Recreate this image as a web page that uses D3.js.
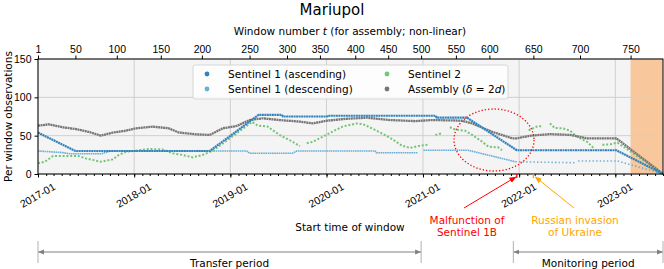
<!DOCTYPE html>
<html>
<head>
<meta charset="utf-8">
<script src="https://cdn.jsdelivr.net/npm/d3@7"></script>
<style>
  body { margin: 0; background: #fff; }
  svg { font-family: "DejaVu Sans", sans-serif; }
  .axis text { font-size: 10.5px; fill: #000; }
  .axis path, .axis line { stroke: #000; }
</style>
</head>
<body>
<script>
// Mariupol - observations per window

var width = 664;
var height = 269;
var plotLeft = 38, plotRight = 663, plotTop = 59, plotBottom = 174;

var yTicks = [0, 50, 100, 150];
var windowTicks = [1, 50, 100, 150, 200, 250, 300, 350, 400, 450, 500, 550, 600, 650, 700, 750];
// start date of those windows (non-linear)
var windowTickDates = ['2017-01-01', '2017-05-23', '2017-10-27', '2018-04-12', '2018-09-15', '2019-03-15',
  '2019-08-04', '2019-12-07', '2020-04-19', '2020-08-22', '2020-12-25', '2021-05-06', '2021-09-10',
  '2022-02-24', '2022-08-20', '2023-02-28'];

var ascending = [
  ['2017-01-01', 54], ['2017-05-23', 30], ['2018-10-15', 30], ['2019-04-18', 77], ['2019-07-15', 77],
  ['2019-07-20', 75], ['2020-01-03', 75], ['2020-01-06', 76], ['2021-02-18', 76], ['2021-02-22', 73.5],
  ['2021-06-17', 73.5], ['2021-12-23', 31], ['2023-01-05', 31], ['2023-07-01', 0]
];

var descending = [
  ['2017-01-01', 30], ['2017-04-01', 28], ['2017-05-01', 26.5], ['2017-09-01', 26.5], ['2017-10-01', 30],
  ['2019-03-04', 30], ['2019-03-15', 27], ['2019-08-25', 27], ['2019-09-10', 30], ['2020-07-03', 30],
  ['2020-07-08', 27.8], ['2020-12-13', 27.8], null, ['2021-01-03', 31], ['2021-06-21', 31],
  ['2021-12-18', 16], ['2022-08-01', 14.7], null, ['2022-08-13', 17], ['2023-01-09', 17], ['2023-07-01', 0]
];

var sentinel2 = [
  ['2017-01-01', 14], ['2017-01-27', 16], ['2017-02-27', 23.5], ['2017-06-04', 23.5], ['2017-07-01', 20.4],
  ['2017-08-27', 16], ['2017-10-12', 19], ['2017-11-04', 25], ['2017-12-01', 29], ['2018-01-07', 30.4],
  ['2018-02-28', 32.6], ['2018-04-19', 32], ['2018-05-27', 27], ['2018-07-04', 24.8], ['2018-08-11', 21.7],
  ['2018-09-19', 25], ['2018-10-27', 30.4], ['2019-03-25', 68], ['2019-04-15', 63], ['2019-05-22', 62],
  ['2019-07-06', 51], ['2019-08-15', 44], ['2019-09-22', 36.5], null, ['2019-10-18', 40], ['2019-11-10', 42],
  ['2019-12-18', 48.7], ['2020-01-22', 55], ['2020-03-03', 62], ['2020-04-25', 66], ['2020-05-18', 65],
  ['2020-06-21', 59.6], ['2020-07-29', 53], ['2020-09-06', 45.6], ['2020-10-13', 37], ['2020-11-13', 34],
  ['2020-12-21', 37], ['2021-01-18', 38], null, ['2021-02-17', 51], ['2021-03-13', 53], null,
  ['2021-04-13', 61], ['2021-05-03', 58], ['2021-06-10', 56.5], ['2021-07-07', 51], ['2021-08-14', 42],
  ['2021-09-06', 35.7], ['2021-10-13', 34.8], ['2021-10-28', 31], null, ['2022-02-06', 57],
  ['2022-03-10', 62], ['2022-04-01', 62.6], null, ['2022-04-28', 66], ['2022-05-16', 60], ['2022-06-16', 59.6],
  ['2022-07-13', 56.5], ['2022-08-09', 48.7], ['2022-09-16', 42], ['2022-10-10', 34], null,
  ['2022-11-13', 38], ['2022-12-13', 38.7], ['2023-01-09', 40.9], ['2023-02-01', 35.7], ['2023-07-01', 0]
];

var assembly = [
  ['2017-01-01', 63], ['2017-02-11', 64.8], ['2017-04-04', 61], ['2017-05-23', 58.7], ['2017-07-12', 55],
  ['2017-08-27', 50], ['2017-10-12', 54], ['2017-12-01', 56.5], ['2018-01-07', 59.6], ['2018-03-12', 61.7],
  ['2018-05-12', 59.6], ['2018-06-18', 54.3], ['2018-08-22', 51.7], ['2018-10-15', 51], ['2018-12-03', 59.6],
  ['2019-01-25', 62.6], ['2019-03-15', 70.4], ['2019-05-03', 72.6], ['2019-07-06', 70.4], ['2019-09-22', 68.3],
  ['2019-11-10', 66], ['2020-01-03', 69.6], ['2020-03-03', 71.7], ['2020-06-03', 73.5], ['2020-08-28', 70.4],
  ['2020-12-03', 69], ['2021-02-06', 70.4], ['2021-05-28', 69.6], ['2021-07-07', 66], ['2021-09-21', 55],
  ['2021-12-06', 46.5], ['2021-12-23', 46.5], ['2022-02-13', 50], ['2022-04-28', 52], ['2022-07-13', 51],
  ['2022-09-16', 46.5], ['2023-01-05', 46.5], ['2023-07-01', 0]
];

var malfunctionDate = '2021-12-23';
var invasionDate = '2022-02-24';
var transferPeriod = ['2017-01-01', '2020-12-25'];
var monitoringPeriod = ['2021-12-10', '2023-07-01'];

var parse = d3.utcParse('%Y-%m-%d');

var svg = d3.select('body').append('svg')
  .attr('width', width)
  .attr('height', height);

var x = d3.scaleUtc()
  .domain([parse('2017-01-01'), parse('2023-07-01')])
  .range([plotLeft, plotRight]);

var y = d3.scaleLinear()
  .domain([0, 150])
  .range([plotBottom, plotTop]);

// background
svg.append('rect')
  .attr('x', plotLeft).attr('y', plotTop)
  .attr('width', plotRight - plotLeft).attr('height', plotBottom - plotTop)
  .attr('fill', '#f4f4f4');

// shaded region after window 750
var shadeStart = x(parse(windowTickDates[windowTickDates.length - 1]));
svg.append('rect')
  .attr('x', shadeStart)
  .attr('y', plotTop)
  .attr('width', plotRight - shadeStart)
  .attr('height', plotBottom - plotTop)
  .attr('fill', '#f8c89c');

// grid
var yearTicks = x.ticks(d3.utcYear);
svg.append('g').selectAll('line').data(yearTicks).enter().append('line')
  .attr('x1', function(d) { return x(d); }).attr('x2', function(d) { return x(d); })
  .attr('y1', plotTop).attr('y2', plotBottom)
  .attr('stroke', '#cfcfcf').attr('stroke-width', 1);
svg.append('g').selectAll('line').data(yTicks).enter().append('line')
  .attr('x1', plotLeft).attr('x2', plotRight)
  .attr('y1', function(d) { return y(d); }).attr('y2', function(d) { return y(d); })
  .attr('stroke', '#cfcfcf').attr('stroke-width', 1);

var line = d3.line()
  .defined(function(d) { return d !== null; })
  .x(function(d) { return x(parse(d[0])); })
  .y(function(d) { return y(d[1]); });

var addSeries = function(data, color, w, dash) {
  svg.append('path')
    .datum(data)
    .attr('d', line)
    .attr('fill', 'none')
    .attr('stroke', color)
    .attr('stroke-width', w)
    .attr('stroke-dasharray', dash);
};

var malf = parse(malfunctionDate);
var before = function(d) { return d === null || parse(d[0]) <= malf; };
var after = function(d) { return d === null || parse(d[0]) >= parse('2021-12-18'); };

addSeries(descending.filter(before), '#6baed6', 1.6, '1.6,0.6');
addSeries(descending.filter(after), '#6baed6', 1.6, '1.4,2.2');
addSeries(sentinel2, '#74c476', 2, '2,1.8');
addSeries(assembly, '#767676', 2.3, '2,0.5');
addSeries(ascending, '#3182bd', 2.2, '2,0.5');

// frame
svg.append('rect')
  .attr('x', plotLeft).attr('y', plotTop)
  .attr('width', plotRight - plotLeft).attr('height', plotBottom - plotTop)
  .attr('fill', 'none').attr('stroke', '#000').attr('stroke-width', 1);

// axes
var yAxis = svg.append('g').attr('class', 'axis')
  .attr('transform', 'translate(' + plotLeft + ',0)')
  .call(d3.axisLeft(y).tickValues(yTicks).tickSize(3.5).tickPadding(3));
yAxis.select('.domain').remove();

var minor = svg.append('g').attr('class', 'axis')
  .attr('transform', 'translate(0,' + plotBottom + ')')
  .call(d3.axisBottom(x).ticks(d3.utcMonth).tickSize(2).tickFormat(''));
minor.select('.domain').remove();

var xAxis = svg.append('g').attr('class', 'axis')
  .attr('transform', 'translate(0,' + plotBottom + ')')
  .call(d3.axisBottom(x).ticks(d3.utcYear).tickSize(3.5).tickFormat(d3.utcFormat('%Y-%m')));
xAxis.select('.domain').remove();
xAxis.selectAll('text')
  .attr('y', 0).attr('dy', 0)
  .attr('text-anchor', 'middle')
  .attr('dominant-baseline', 'central')
  .attr('font-size', '11px')
  .attr('transform', 'translate(-1,21) rotate(-30)');

var topAxis = svg.append('g').attr('class', 'axis')
  .attr('transform', 'translate(0,' + plotTop + ')')
  .call(d3.axisTop(x)
    .tickValues(windowTickDates.map(parse))
    .tickSize(3.5).tickPadding(3)
    .tickFormat(function(d, i) { return windowTicks[i]; }));
topAxis.select('.domain').remove();

// titles
svg.append('text')
  .attr('x', 332).attr('y', 15)
  .attr('text-anchor', 'middle')
  .attr('font-size', '15px')
  .text('Mariupol');

var topLabel = svg.append('text')
  .attr('x', 350).attr('y', 35)
  .attr('text-anchor', 'middle')
  .attr('font-size', '10.5px');
topLabel.append('tspan').text('Window number ');
topLabel.append('tspan').attr('font-style', 'italic').text('t');
topLabel.append('tspan').text(' (for assembly; non-linear)');

svg.append('text')
  .attr('x', 350).attr('y', 231)
  .attr('text-anchor', 'middle')
  .attr('font-size', '10.5px')
  .text('Start time of window');

svg.append('text')
  .attr('transform', 'translate(12,' + ((plotTop + plotBottom) / 2) + ') rotate(-90)')
  .attr('text-anchor', 'middle')
  .attr('font-size', '10.5px')
  .text('Per window observations');

// legend
var legend = svg.append('g');
legend.append('rect')
  .attr('x', 193).attr('y', 65).attr('width', 315).attr('height', 34)
  .attr('rx', 2.5)
  .attr('fill', '#fff').attr('fill-opacity', 0.8)
  .attr('stroke', '#d6d6d6');

var legendItems = [
  { label: 'Sentinel 1 (ascending)', color: '#3182bd', col: 0, row: 0 },
  { label: 'Sentinel 1 (descending)', color: '#6baed6', col: 0, row: 1 },
  { label: 'Sentinel 2', color: '#74c476', col: 1, row: 0 },
  { label: 'Assembly', color: '#767676', col: 1, row: 1 }
];
legendItems.forEach(function(it) {
  var lx = it.col === 0 ? 207 : 387;
  var ly = 74 + it.row * 15;
  legend.append('circle').attr('cx', lx).attr('cy', ly).attr('r', 2.4).attr('fill', it.color);
  var t = legend.append('text')
    .attr('x', lx + 21).attr('y', ly + 4)
    .attr('font-size', '10.5px');
  if (it.label === 'Assembly') {
    t.append('tspan').text('Assembly (');
    t.append('tspan').attr('font-style', 'italic').text('δ');
    t.append('tspan').text(' = 2');
    t.append('tspan').attr('font-style', 'italic').text('d');
    t.append('tspan').text(')');
  } else {
    t.text(it.label);
  }
});

// red dotted circle
svg.append('ellipse')
  .attr('cx', 494).attr('cy', 140).attr('rx', 40).attr('ry', 31)
  .attr('fill', 'none').attr('stroke', 'red')
  .attr('stroke-width', 1.3).attr('stroke-dasharray', '1.3,2');

// annotations
var defs = svg.append('defs');
['red', 'orange'].forEach(function(c) {
  defs.append('marker')
    .attr('id', 'head-' + c)
    .attr('viewBox', '0 0 10 10')
    .attr('refX', 9).attr('refY', 5)
    .attr('markerWidth', 7).attr('markerHeight', 7)
    .attr('orient', 'auto')
    .append('path').attr('d', 'M0,1 L10,5 L0,9 z').attr('fill', c);
});

var annotate = function(date, color, tx, lines) {
  var px = x(parse(date));
  svg.append('line')
    .attr('x1', px).attr('x2', px).attr('y1', plotBottom).attr('y2', plotBottom + 4)
    .attr('stroke', color).attr('stroke-width', 1.3);
  svg.append('line')
    .attr('x1', tx).attr('y1', 208)
    .attr('x2', px + (color === 'red' ? -1 : 2)).attr('y2', plotBottom + 3)
    .attr('stroke', color).attr('stroke-width', 1)
    .attr('marker-end', 'url(#head-' + color + ')');
  lines.forEach(function(l, i) {
    svg.append('text')
      .attr('x', tx + (color === 'red' ? 3 : 1)).attr('y', 224 + i * 12)
      .attr('text-anchor', 'middle')
      .attr('font-size', '10.5px')
      .attr('fill', color)
      .text(l);
  });
};
annotate(malfunctionDate, 'red', 464, ['Malfunction of', 'Sentinel 1B']);
annotate(invasionDate, 'orange', 574, ['Russian invasion', 'of Ukraine']);

// periods
defs.append('marker')
  .attr('id', 'head-gray')
  .attr('viewBox', '0 0 10 10')
  .attr('refX', 10).attr('refY', 5)
  .attr('markerWidth', 6).attr('markerHeight', 6)
  .attr('orient', 'auto-start-reverse')
  .append('path').attr('d', 'M0,1 L10,5 L0,9 z').attr('fill', '#808080');

var period = function(range, label) {
  var x0 = x(parse(range[0])), x1 = x(parse(range[1]));
  svg.append('line')
    .attr('x1', x0).attr('x2', x1).attr('y1', 252).attr('y2', 252)
    .attr('stroke', '#808080').attr('stroke-width', 1)
    .attr('marker-start', 'url(#head-gray)')
    .attr('marker-end', 'url(#head-gray)');
  [x0, x1].forEach(function(px) {
    svg.append('line')
      .attr('x1', px).attr('x2', px).attr('y1', 241).attr('y2', 263)
      .attr('stroke', '#b0b0b0').attr('stroke-width', 1);
  });
  svg.append('text')
    .attr('x', (x0 + x1) / 2).attr('y', 267)
    .attr('text-anchor', 'middle')
    .attr('font-size', '10.5px')
    .text(label);
};
period(transferPeriod, 'Transfer period');
period(monitoringPeriod, 'Monitoring period');
</script>
</body>
</html>
